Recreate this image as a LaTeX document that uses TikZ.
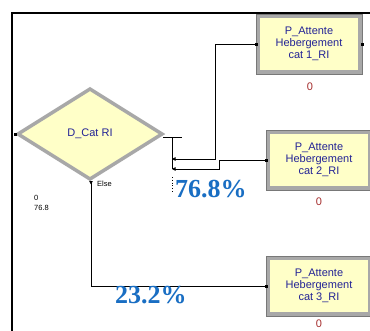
\documentclass[tikz,border=0pt]{standalone}
\usepackage{fontspec}
\setmainfont{Liberation Serif}
\setsansfont{Liberation Sans}
\usetikzlibrary{arrows.meta}
\definecolor{ylw}{RGB}{255,255,200}
\definecolor{bgray}{RGB}{168,168,168}
\definecolor{dgray}{RGB}{120,120,120}
\definecolor{navy}{RGB}{35,35,150}
\definecolor{redlab}{RGB}{165,45,45}
\definecolor{pctblue}{RGB}{25,110,195}
\begin{document}
\begin{tikzpicture}[x=1pt,y=-1pt,
  pbox/.style={rectangle, fill=ylw, draw=bgray, line width=4pt,
    minimum width=102pt, minimum height=56pt, inner sep=0pt, align=center,
    font=\sffamily\fontsize{11}{12.2}\selectfont, text=navy},
  sq/.style={fill=black, draw=none, inner sep=0pt, minimum size=3pt},
  conn/.style={draw=black, line width=0.8pt},
  tip/.style={-{Triangle[length=3.5pt,width=3.5pt]}},
  cnt/.style={font=\sffamily\fontsize{11}{12}\selectfont, text=redlab},
  small/.style={font=\sffamily\fontsize{7.5}{9}\selectfont, text=black, inner sep=0pt},
  pct/.style={font=\bfseries\fontsize{26}{28}\selectfont, text=pctblue, inner sep=0pt}]
\useasboundingbox (0,0) rectangle (370,330);
\clip (0,0) rectangle (370,330);
\fill[white] (0,0) rectangle (370,330);

% frame
\coordinate (fbl) at (12,331);
\coordinate (ftl) at (12,13);
\coordinate (ftr) at (371,13);
\draw[line width=1.6pt] (fbl) -- (ftl) -- (ftr);

% diamond
\coordinate (dl) at (18,134);
\coordinate (dt) at (90,89);
\coordinate (dr) at (162,134);
\coordinate (db) at (90,179);
\draw[fill=ylw, draw=bgray, line width=3.5pt] (dl) -- (dt) -- (dr) -- (db) -- cycle;
\node[font=\sffamily\fontsize{11}{12}\selectfont, text=navy] (dlab) at (90,134) {D\_Cat RI};
\node[sq] (din) at (15,134) {};

% process boxes
\node[pbox] (b1) at (309,44) {P\_Attente\\Hebergement\\cat 1\_RI};
\node[pbox] (b2) at (319,160) {P\_Attente\\Hebergement\\cat 2\_RI};
\node[pbox] (b3) at (319,286) {P\_Attente\\Hebergement\\cat 3\_RI};
\foreach \b in {b1,b2,b3}{\draw[dgray, line width=0.5pt] (\b.north west) rectangle (\b.south east);}
\node[cnt] (c1) at (310,87) {0};
\node[cnt] (c2) at (319,202) {0};
\node[cnt] (c3) at (319,324) {0};

% entry squares
\node[sq] (s1) at (b1.west) {};
\node[sq] (s2) at (b2.west) {};
\node[sq] (s3) at (b3.west) {};
\node[sq] (s1e) at (b1.east) {};

% decision exits
\coordinate (dx) at (163,137);
\coordinate (dxe) at (182,137);
\coordinate (ja) at (172,137);
\coordinate (t1) at (172,159);
\coordinate (t2) at (172,169);
\draw[conn] (dx) -- (dxe);
\draw[conn] (ja) -- (t2);
\draw[conn, tip] (s1.center) -| (215,159) -- (t1);
\draw[conn, tip] (s2.center) -- (219,160) |- (t2);
\coordinate (dot1) at (172,177);
\coordinate (dot2) at (172,192);
\draw[black, line width=0.8pt, dotted] (dot1) -- (dot2);

% else branch
\coordinate (eb) at (91,181);
\draw[conn, {Triangle[length=3.5pt,width=3.5pt,reversed]}-] (eb) |- (s3.center);
\node[small, anchor=west] (else) at (97,184) {Else};

% small stats
\node[small, anchor=west] (z0) at (34,198) {0};
\node[small, anchor=west] (z1) at (34,208) {76.8};

% percentages
\node[pct, anchor=base west] (p1) at (175,197) {76.8\%};
\node[pct, anchor=base west] (p2) at (115,303) {23.2\%};
\end{tikzpicture}
\end{document}
